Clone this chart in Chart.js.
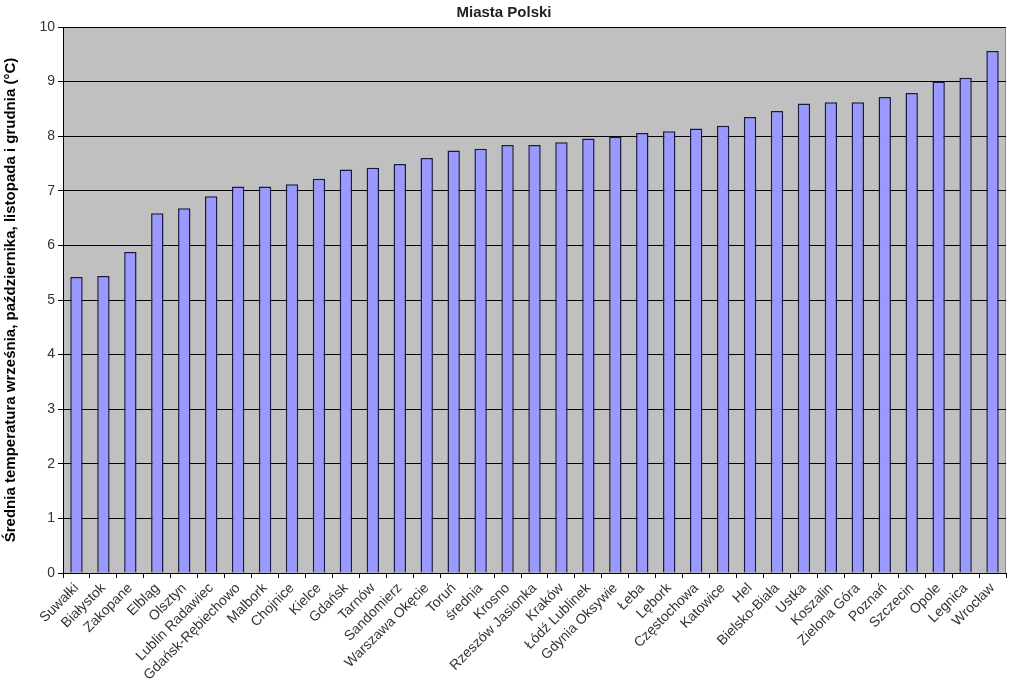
<!DOCTYPE html>
<html lang="pl">
<head>
  <meta charset="UTF-8">
  <title>Miasta Polski</title>
  <script src="https://cdn.jsdelivr.net/npm/chart.js"></script>
  <style>
    html, body { margin: 0; padding: 0; background: #fff; }
    .chart-box { width: 1024px; height: 692px; }
  </style>
</head>
<body>
  <div class="chart-box">
    <canvas id="cityChart"></canvas>
  </div>

  <script>
    const cities = [
      'Suwałki', 'Białystok', 'Zakopane', 'Elbląg', 'Olsztyn', 'Lublin Radawiec',
      'Gdańsk-Rębiechowo', 'Malbork', 'Chojnice', 'Kielce', 'Gdańsk', 'Tarnów',
      'Sandomierz', 'Warszawa Okęcie', 'Toruń', 'średnia', 'Krosno', 'Rzeszów Jasionka',
      'Kraków', 'Łódź Lublinek', 'Gdynia Oksywie', 'Łeba', 'Lębork', 'Częstochowa',
      'Katowice', 'Hel', 'Bielsko-Biała', 'Ustka', 'Koszalin', 'Zielona Góra',
      'Poznań', 'Szczecin', 'Opole', 'Legnica', 'Wrocław'
    ];
    const avgTemps = [
      5.42, 5.44, 5.88, 6.59, 6.68, 6.90,
      7.08, 7.08, 7.12, 7.22, 7.39, 7.42,
      7.49, 7.60, 7.74, 7.77, 7.84, 7.84,
      7.89, 7.96, 7.99, 8.06, 8.09, 8.14,
      8.19, 8.35, 8.46, 8.60, 8.62, 8.62,
      8.72, 8.79, 9.00, 9.07, 9.56
    ];
    const yTicks = [0, 1, 2, 3, 4, 5, 6, 7, 8, 9, 10];

    // grey plot area like the old spreadsheet charts
    const plotBackground = {
      id: 'plotBackground',
      beforeDraw(chart) {
        const { ctx, chartArea: a } = chart;
        ctx.save();
        ctx.fillStyle = '#c0c0c0';
        ctx.fillRect(a.left, a.top, a.right - a.left, a.bottom - a.top);
        ctx.strokeStyle = '#888';
        ctx.lineWidth = 1;
        ctx.strokeRect(a.left + 0.5, a.top + 0.5, a.right - a.left - 1, a.bottom - a.top);
        ctx.restore();
      }
    };

    const ctx = document.getElementById('cityChart').getContext('2d');
    new Chart(ctx, {
      type: 'bar',
      data: {
        labels: cities,
        datasets: [{
          label: 'Średnia temperatura',
          data: avgTemps,
          backgroundColor: '#9999ff',
          borderColor: '#1a1a40',
          borderWidth: 1.5,
          barPercentage: 0.46,
          categoryPercentage: 1.0
        }]
      },
      options: {
        responsive: true,
        maintainAspectRatio: false,
        animation: false,
        layout: { padding: { left: 2, right: 18, top: 0, bottom: 0 } },
        plugins: {
          legend: { display: false },
          tooltip: { enabled: false },
          title: {
            display: true,
            text: 'Miasta Polski',
            color: '#222',
            font: { family: 'Liberation Sans', size: 15, weight: 'bold' },
            padding: { top: 4, bottom: 5 }
          }
        },
        scales: {
          x: {
            grid: { display: true, drawOnChartArea: false, color: '#000', tickLength: 5, offset: true },
            border: { color: '#000', width: 1 },
            ticks: {
              color: '#333',
              font: { family: 'Liberation Sans', size: 14 },
              minRotation: 45,
              maxRotation: 45,
              autoSkip: false,
              padding: 2
            },
            afterFit(scale) { scale.height = 119; }
          },
          y: {
            min: 0,
            max: 10,
            afterBuildTicks(scale) { scale.ticks = yTicks.map(v => ({ value: v })); },
            grid: { color: '#000', lineWidth: 1, tickLength: 5 },
            border: { color: '#000', width: 1 },
            ticks: {
              color: '#333',
              font: { family: 'Liberation Sans', size: 14 },
              padding: 3
            },
            title: {
              display: true,
              text: 'Średnia temperatura września, października, listopada i grudnia (°C)',
              color: '#000',
              font: { family: 'Liberation Sans', size: 15, weight: 'bold' },
              padding: { top: 0, bottom: 4 }
            },
            afterFit(scale) { scale.width = 61; }
          }
        }
      },
      plugins: [plotBackground]
    });
  </script>
</body>
</html>
